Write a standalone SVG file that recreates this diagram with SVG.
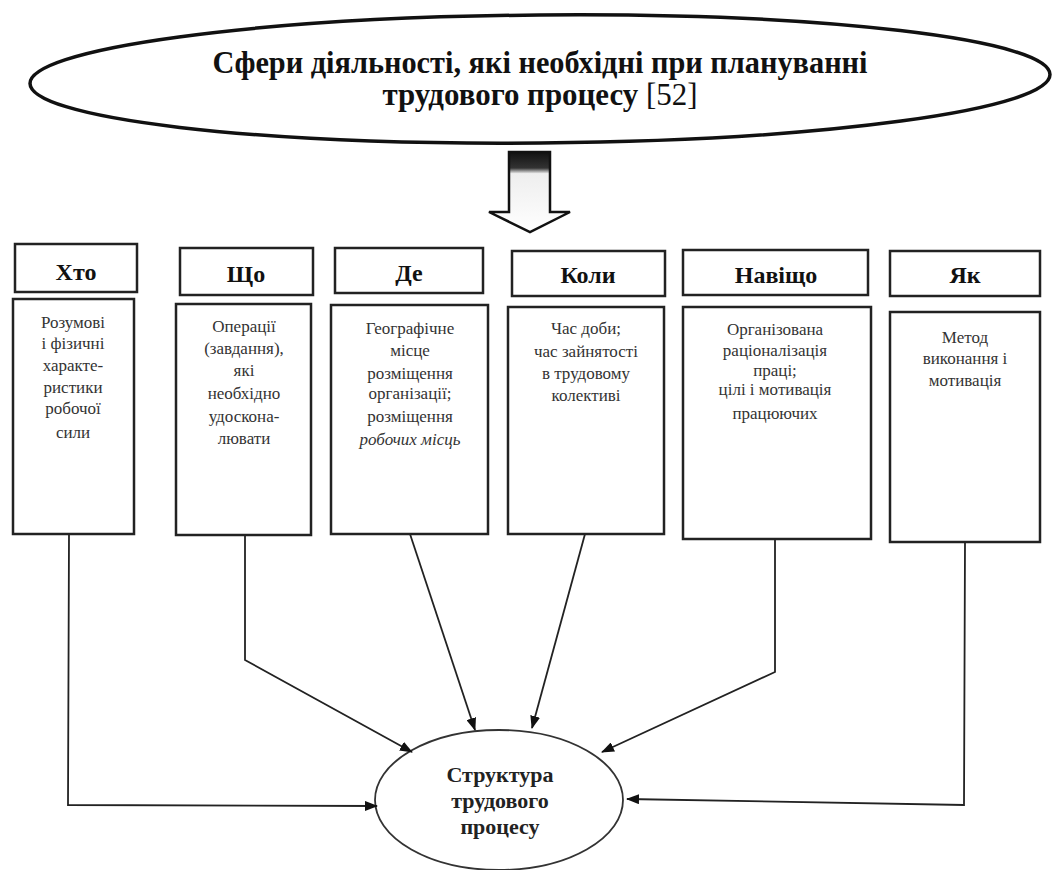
<svg xmlns="http://www.w3.org/2000/svg" width="1054" height="870" viewBox="0 0 1054 870">
<defs>
<style>
.box{fill:#fff;stroke:#222;stroke-width:2.5}
.hd{font-family:"Liberation Serif","DejaVu Serif",serif;font-weight:bold;font-size:24px;fill:#111;text-anchor:middle}
.bd{font-family:"Liberation Serif","DejaVu Serif",serif;font-size:17px;fill:#333;text-anchor:middle}
.ttl{font-family:"Liberation Serif","DejaVu Serif",serif;font-weight:bold;font-size:31px;fill:#111;text-anchor:middle}
.ct{font-family:"Liberation Serif","DejaVu Serif",serif;font-weight:bold;font-size:22px;fill:#222;text-anchor:middle}
.con{fill:none;stroke:#222;stroke-width:1.8;marker-end:url(#ah)}
</style>
<marker id="ah" viewBox="0 0 13 10" refX="12" refY="5" markerWidth="13" markerHeight="10" markerUnits="userSpaceOnUse" orient="auto">
<path d="M0,0 L13,5 L0,10 Z" fill="#111"/>
</marker>
<linearGradient id="ag" x1="0" y1="0" x2="0" y2="1">
<stop offset="0" stop-color="#111"/>
<stop offset="0.2" stop-color="#333"/>
<stop offset="0.27" stop-color="#eee"/>
<stop offset="1" stop-color="#fff"/>
</linearGradient>
</defs>
<rect width="1054" height="870" fill="#fff"/>

<g id="title">
<ellipse cx="540" cy="79" rx="510" ry="64" transform="rotate(-0.5 540 79)" fill="#fff" stroke="#111" stroke-width="3.5"/>
<text class="ttl" x="540" y="73" textLength="655" lengthAdjust="spacingAndGlyphs">Сфери діяльності, які необхідні  при плануванні</text>
<text class="ttl" x="540" y="105" textLength="315" lengthAdjust="spacingAndGlyphs">трудового процесу <tspan font-weight="normal">[52]</tspan></text>
</g>

<g id="block-arrow">
<path d="M509,152 L550,152 L550,212 L570,212 L530,232 L489,212 L509,212 Z" fill="url(#ag)" stroke="#111" stroke-width="2.5" stroke-linejoin="miter"/>
</g>

<g id="who">
<rect class="box" x="15" y="244" width="122" height="48"/>
<text class="hd" x="76" y="280">Хто</text>
<rect class="box" x="13" y="299" width="121" height="235"/>
<text class="bd" x="73" y="328">Розумові</text>
<text class="bd" x="73" y="349">і фізичні</text>
<text class="bd" x="73" y="371">характе-</text>
<text class="bd" x="73" y="393">ристики</text>
<text class="bd" x="73" y="414">робочої</text>
<text class="bd" x="73" y="438">сили</text>
</g>

<g id="what">
<rect class="box" x="180" y="248" width="133" height="47"/>
<text class="hd" x="246" y="282">Що</text>
<rect class="box" x="176" y="304" width="135" height="231"/>
<text class="bd" x="244" y="332">Операції</text>
<text class="bd" x="244" y="354">(завдання),</text>
<text class="bd" x="244" y="376">які</text>
<text class="bd" x="244" y="399">необхідно</text>
<text class="bd" x="244" y="422">удоскона-</text>
<text class="bd" x="244" y="444">лювати</text>
</g>

<g id="where">
<rect class="box" x="335" y="248" width="148" height="45"/>
<text class="hd" x="409" y="281">Де</text>
<rect class="box" x="331" y="305" width="157" height="229"/>
<text class="bd" x="410" y="334">Географічне</text>
<text class="bd" x="410" y="356">місце</text>
<text class="bd" x="410" y="379">розміщення</text>
<text class="bd" x="410" y="399">організації;</text>
<text class="bd" x="410" y="422">розміщення</text>
<text class="bd" x="410" y="445" font-style="italic">робочих місць</text>
</g>

<g id="when">
<rect class="box" x="512" y="251" width="153" height="45"/>
<text class="hd" x="588" y="283">Коли</text>
<rect class="box" x="508" y="307" width="156" height="227"/>
<text class="bd" x="586" y="334">Час доби;</text>
<text class="bd" x="586" y="357">час зайнятості</text>
<text class="bd" x="586" y="379">в трудовому</text>
<text class="bd" x="586" y="401">колективі</text>
</g>

<g id="why">
<rect class="box" x="683" y="250" width="185" height="45"/>
<text class="hd" x="776" y="283">Навіщо</text>
<rect class="box" x="683" y="307" width="188" height="232"/>
<text class="bd" x="775" y="335">Організована</text>
<text class="bd" x="775" y="356">раціоналізація</text>
<text class="bd" x="775" y="376">праці;</text>
<text class="bd" x="775" y="395">цілі і мотивація</text>
<text class="bd" x="775" y="419">працюючих</text>
</g>

<g id="how">
<rect class="box" x="890" y="251" width="150" height="45"/>
<text class="hd" x="965" y="283">Як</text>
<rect class="box" x="890" y="312" width="150" height="230"/>
<text class="bd" x="965" y="343">Метод</text>
<text class="bd" x="965" y="364">виконання і</text>
<text class="bd" x="965" y="386">мотивація</text>
</g>

<g id="structure">
<ellipse cx="499" cy="800" rx="124" ry="70" fill="#fff" stroke="#333" stroke-width="1.8"/>
<text class="ct" x="500" y="782">Структура</text>
<text class="ct" x="500" y="808">трудового</text>
<text class="ct" x="500" y="834">процесу</text>
</g>

<g id="connectors">
<path class="con" d="M69,534 L68,805 L377,806"/>
<path class="con" d="M245,535 L245,660 L412,752"/>
<path class="con" d="M410,534 L475,730"/>
<path class="con" d="M585,534 L532,728"/>
<path class="con" d="M775,539 L775,672 L602,752"/>
<path class="con" d="M965,542 L964,805 L627,799"/>
</g>
</svg>
